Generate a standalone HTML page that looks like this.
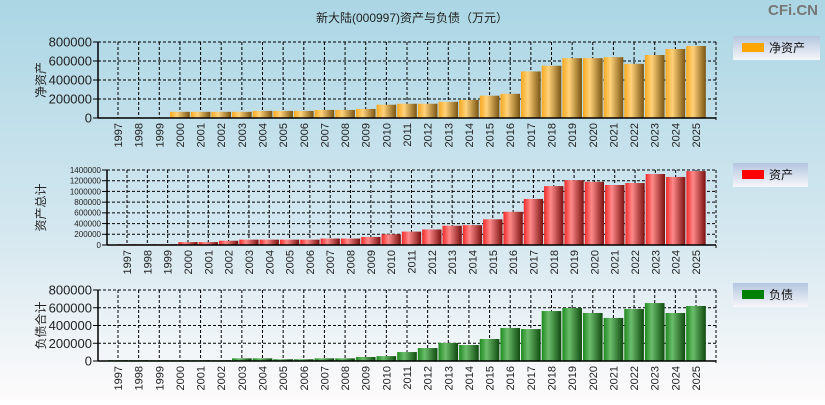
<!DOCTYPE html>
<html><head><meta charset="utf-8"><style>
body{margin:0;width:825px;height:400px;overflow:hidden;font-family:"Liberation Sans","Noto Sans CJK SC",sans-serif}
</style></head><body>
<svg id="chart" width="825" height="400" xmlns="http://www.w3.org/2000/svg" font-family="Liberation Sans, Noto Sans CJK SC, sans-serif">
<defs>
<linearGradient id="bg" x1="0" y1="0" x2="0" y2="1"><stop offset="0" stop-color="#abd6e4"/><stop offset="0.6" stop-color="#d6e8f0"/><stop offset="1" stop-color="#fdfbfb"/></linearGradient>
<linearGradient id="lg" x1="0" y1="0" x2="0" y2="1"><stop offset="0" stop-color="#b4c6df"/><stop offset="1" stop-color="#f6f6fa"/></linearGradient>
<linearGradient id="gO" x1="0" x2="1"><stop offset="0" stop-color="#f7a820"/><stop offset="0.35" stop-color="#ffd27a"/><stop offset="1" stop-color="#7a5412"/></linearGradient>
<linearGradient id="gR" x1="0" x2="1"><stop offset="0" stop-color="#f02a2a"/><stop offset="0.35" stop-color="#ff8a8a"/><stop offset="1" stop-color="#7a1010"/></linearGradient>
<linearGradient id="gG" x1="0" x2="1"><stop offset="0" stop-color="#1e8a1e"/><stop offset="0.35" stop-color="#6cbc6c"/><stop offset="1" stop-color="#0e4a0e"/></linearGradient>
</defs>
<rect width="825" height="400" fill="url(#bg)"/>
<text x="412" y="22" text-anchor="middle" font-size="12" fill="#222">新大陆(000997)资产与负债（万元）</text>
<text x="818" y="15" text-anchor="end" font-size="15" font-weight="bold" fill="#777">CFi.CN</text>
</svg>
<script>
const years=["1997","1998","1999","2000","2001","2002","2003","2004","2005","2006","2007","2008","2009","2010","2011","2012","2013","2014","2015","2016","2017","2018","2019","2020","2021","2022","2023","2024","2025"];
const netAssets=[5000,5000,5000,65000,65000,65000,65000,75000,75000,75000,85000,85000,95000,140000,150000,150000,170000,190000,235000,255000,490000,550000,630000,630000,640000,570000,663000,726000,758000];
const totalAssets=[15000,15000,15000,55000,55000,80000,100000,100000,100000,100000,120000,120000,150000,200000,250000,290000,360000,370000,480000,620000,860000,1100000,1210000,1180000,1120000,1157000,1325000,1270000,1380000];
const liabilities=[10000,10000,10000,10000,10000,10000,30000,30000,20000,20000,30000,30000,45000,55000,101000,146000,203000,180000,248000,372000,360000,563000,597000,541000,485000,586000,653000,541000,620000];
const ticksA=[0,200000,400000,600000,800000];
const ticksB=[0,200000,400000,600000,800000,1000000,1200000,1400000];
const svg=document.getElementById('chart');
const NS='http://www.w3.org/2000/svg';
function mk(t,a){const e=document.createElementNS(NS,t);for(const k in a)e.setAttribute(k,a[k]);svg.appendChild(e);return e;}
function panel(p){
  const {x0,x1,y0,y1,max,ticks,data,grad,title,legend,lx,ly,lw,color,fs,key}=p;
  const n=years.length;const off=20;const pitch=(x1-x0-2*off)/(n-1);
  const xs=i=>x0+off+i*pitch;const ys=v=>y1-(v/max)*(y1-y0);
  // grid
  ticks.forEach((t,i)=>{if(t===0)return;const l=mk('line',{x1:x0,x2:x1,y1:ys(t),y2:ys(t),stroke:'#000','stroke-dasharray':'3,2','stroke-width':1});
    
    });
  years.forEach((y,i)=>{const l=mk('line',{x1:xs(i),x2:xs(i),y1:y0,y2:y1,stroke:'#000','stroke-dasharray':'3,2','stroke-width':1});
    
    });
  const r=mk('line',{x1:x1,x2:x1,y1:y0,y2:y1+4,stroke:'#000','stroke-dasharray':'3,2'});
  
  
  const t=mk('line',{x1:x0,x2:x1,y1:y0,y2:y0,stroke:'#000','stroke-dasharray':'3,2'});
  
  
  // bars
  data.forEach((v,i)=>{const b=mk('rect',{x:xs(i)-pitch/2+0.5,y:ys(v),width:pitch-1,height:y1-ys(v),fill:'url(#'+grad+')'});
    
    });
  // axes
  const ax=mk('line',{x1:x0,x2:x0,y1:y0,y2:y1,stroke:'#000','stroke-width':1.5});
  
  
  const bx=mk('line',{x1:x0,x2:x1,y1:y1,y2:y1,stroke:'#000','stroke-width':1.5});
  
  
  ticks.forEach(tv=>{mk('line',{x1:x0-5,x2:x0,y1:ys(tv),y2:ys(tv),stroke:'#000'});
    const tx=mk('text',{x:x0-6,y:ys(tv)+fs*0.36,'text-anchor':'end','font-size':fs,fill:'#222'});tx.textContent=tv;
    
    });
  years.forEach((y,i)=>{const tx=mk('text',{x:0,y:0,'text-anchor':'end','font-size':11,fill:'#222',transform:`translate(${xs(i)+4},${y1+5}) rotate(-90)`});tx.textContent=y;
    
    });
  const tt=mk('text',{x:0,y:0,'text-anchor':'middle','font-size':12,fill:'#222',transform:`translate(45,${(y0+y1)/2}) rotate(-90)`});tt.textContent=title;
  
  
  const lb=mk('rect',{x:lx,y:ly,width:lw,height:24,fill:'url(#lg)'});
  
  
  const sw=mk('rect',{x:lx+9,y:ly+7,width:22,height:9,fill:color});
  
  
  const lt=mk('text',{x:lx+36,y:ly+16,'font-size':12,fill:'#111'});lt.textContent=legend;
  
  
}
panel({key:'net-assets',x0:98,x1:716,y0:42,y1:118,max:800000,ticks:ticksA,data:netAssets,grad:'gO',title:'净资产',legend:'净资产',lx:733,ly:36,lw:87,color:'#ffa500',fs:13});
panel({key:'total-assets',x0:107,x1:716,y0:170,y1:245,max:1400000,ticks:ticksB,data:totalAssets,grad:'gR',title:'资产总计',legend:'资产',lx:733,ly:163,lw:75,color:'#ff0000',fs:8});
panel({key:'liabilities',x0:98,x1:716,y0:290,y1:361,max:800000,ticks:ticksA,data:liabilities,grad:'gG',title:'负债合计',legend:'负债',lx:733,ly:283,lw:75,color:'#008000',fs:13});
</script>
</body></html>
